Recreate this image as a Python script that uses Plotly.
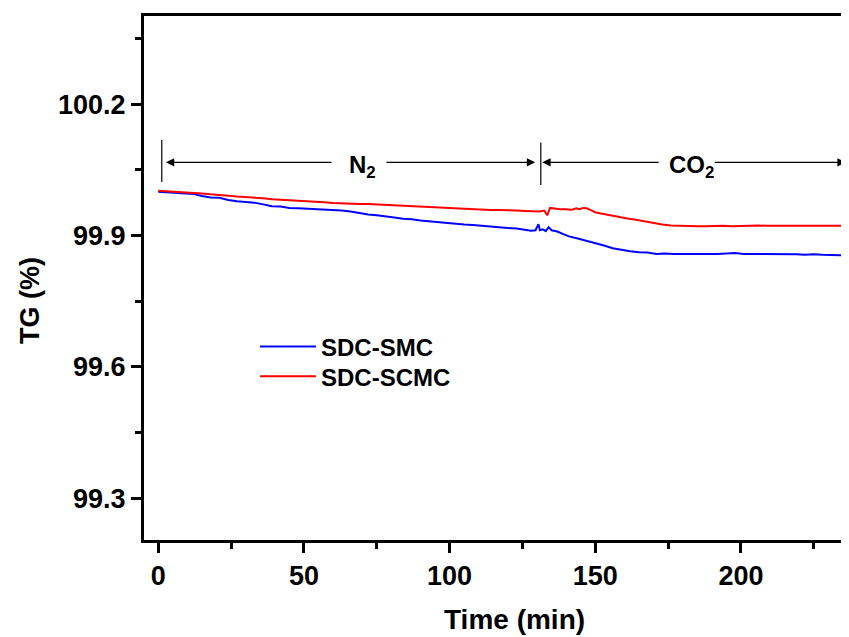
import plotly.graph_objects as go

# ---------------- data ----------------
series_names = ["SDC-SMC", "SDC-SCMC"]

time_smc = [0, 3, 6, 9, 12, 15, 18, 21, 24, 27, 30, 33, 36, 39, 42, 45, 48, 51, 54, 57,
            60, 63, 66, 69, 72, 75, 78, 81, 84, 87, 90, 93, 96, 99, 102, 105, 108, 111,
            114, 117, 120, 123, 126, 128, 129.5, 130.5, 131, 132, 133, 134, 135, 137, 139,
            141, 144, 147, 150, 153, 156, 159, 162, 165, 168, 171, 174, 177, 180, 183,
            186, 189, 192, 195, 198, 201, 204, 207, 210, 213, 216, 219, 222, 225, 228,
            231, 234, 237]
tg_smc = [100.000, 99.999, 99.998, 99.996, 99.995, 99.990, 99.987, 99.986, 99.981, 99.978,
          99.977, 99.975, 99.971, 99.967, 99.966, 99.963, 99.962, 99.961, 99.961, 99.959,
          99.958, 99.957, 99.955, 99.951, 99.948, 99.946, 99.944, 99.941, 99.938, 99.937,
          99.934, 99.932, 99.930, 99.929, 99.926, 99.925, 99.924, 99.922, 99.920, 99.919,
          99.917, 99.916, 99.913, 99.911, 99.912, 99.926, 99.912, 99.914, 99.910, 99.919,
          99.912, 99.909, 99.903, 99.898, 99.893, 99.888, 99.883, 99.877, 99.871, 99.867,
          99.864, 99.862, 99.861, 99.858, 99.859, 99.858, 99.858, 99.858, 99.857, 99.858,
          99.858, 99.859, 99.860, 99.858, 99.858, 99.857, 99.858, 99.857, 99.857, 99.857,
          99.856, 99.857, 99.856, 99.856, 99.855, 99.854]

time_scmc = [0, 3, 6, 9, 12, 15, 18, 21, 24, 27, 30, 33, 36, 39, 42, 45, 48, 51, 54, 57,
             60, 63, 66, 69, 72, 75, 78, 81, 84, 87, 90, 93, 96, 99, 102, 105, 108, 111,
             114, 117, 120, 123, 126, 129, 131, 132.5, 133.5, 134.5, 136, 138, 140, 142,
             143.5, 144.5, 146, 147, 148.5, 150, 152, 155, 158, 161, 164, 167, 170, 173,
             176, 179, 182, 185, 188, 191, 194, 197, 200, 203, 206, 209, 212, 215, 218,
             221, 224, 227, 230, 233, 237]
tg_scmc = [100.002, 100.001, 99.999, 99.998, 99.997, 99.996, 99.994, 99.993, 99.991, 99.989,
           99.988, 99.987, 99.985, 99.983, 99.982, 99.981, 99.980, 99.979, 99.977, 99.976,
           99.974, 99.973, 99.973, 99.972, 99.972, 99.971, 99.969, 99.968, 99.967, 99.966,
           99.966, 99.965, 99.964, 99.962, 99.961, 99.960, 99.959, 99.959, 99.958, 99.958,
           99.958, 99.957, 99.956, 99.956, 99.955, 99.957, 99.946, 99.963, 99.961, 99.960,
           99.960, 99.959, 99.962, 99.960, 99.963, 99.962, 99.958, 99.953, 99.950, 99.946,
           99.942, 99.939, 99.936, 99.932, 99.928, 99.925, 99.923, 99.922, 99.921, 99.921,
           99.921, 99.922, 99.922, 99.921, 99.922, 99.922, 99.923, 99.922, 99.922, 99.923,
           99.923, 99.922, 99.923, 99.923, 99.923, 99.922, 99.922]

x_tick_vals = [0, 50, 100, 150, 200]
y_tick_vals = [99.3, 99.6, 99.9, 100.2]
y_tick_text = ["99.3", "99.6", "99.9", "100.2"]

# atmosphere segments: label, boundaries (min)
segment_labels = ["N<sub>2</sub>", "CO<sub>2</sub>"]
segment_bounds = [1.2, 131.3, 236.6]

FONT = "Liberation Sans, Arial, sans-serif"

fig = go.Figure()
fig.add_trace(go.Scatter(x=time_smc, y=tg_smc, mode="lines", name=series_names[0],
                         line=dict(color="#0000ff", width=2), legend="legend"))
fig.add_trace(go.Scatter(x=time_scmc, y=tg_scmc, mode="lines", name=series_names[1],
                         line=dict(color="#ff0000", width=2), legend="legend2"))

shapes = []
bar_y = [(100.022, 100.118), (100.015, 100.112), (100.020, 100.114)]
for xb, (y0, y1) in zip(segment_bounds, bar_y):
    shapes.append(dict(type="line", xref="x", yref="y", x0=xb, x1=xb, y0=y0, y1=y1,
                       line=dict(color="black", width=1.2)))

annotations = []
arrow_y = 100.067
label_x = [70, 183]
arrows = [(60, 2.6), (77.8, 129.4), (172.3, 131.8), (190.5, 236.0)]
for tail, tip in arrows:
    annotations.append(dict(x=tip, y=arrow_y, ax=tail, ay=arrow_y, xref="x", yref="y",
                            axref="x", ayref="y", text="", showarrow=True,
                            arrowhead=2, arrowsize=1.4, arrowwidth=1.2, arrowcolor="black"))
for lbl, lx in zip(segment_labels, label_x):
    annotations.append(dict(x=lx, y=arrow_y, xref="x", yref="y", text="<b>" + lbl + "</b>",
                            showarrow=False, yanchor="middle", yshift=-4,
                            font=dict(family=FONT, size=24, color="black")))

annotations.append(dict(x=-0.1617, y=0.456, xref="paper", yref="paper", text="<b>TG (%)</b>",
                        textangle=-90, showarrow=False, xanchor="center", yanchor="middle",
                        font=dict(family=FONT, size=27, color="black")))
annotations.append(dict(x=0.526, y=-0.152, xref="paper", yref="paper", text="<b>Time (min)</b>",
                        showarrow=False, xanchor="center", yanchor="middle",
                        font=dict(family=FONT, size=28, color="black")))

legend_common = dict(xanchor="left", yanchor="middle", bgcolor="rgba(0,0,0,0)",
                     borderwidth=0, itemwidth=56,
                     font=dict(family=FONT, size=24, color="black", weight="bold"))

# the page body has an 8px margin, so the figure is drawn 8px smaller than the window
fig.update_layout(
    width=841, height=629,
    margin=dict(l=136, r=0, t=8, b=97),
    paper_bgcolor="white", plot_bgcolor="white",
    font=dict(family=FONT, size=24, color="black"),
    showlegend=True,
    legend=dict(x=0.1574, y=0.3687, **legend_common),
    legend2=dict(x=0.1574, y=0.3115, **legend_common),
    shapes=shapes,
    annotations=annotations,
)

fig.update_xaxes(
    range=[-4.9, 237.1], tickvals=x_tick_vals, ticktext=[f"<b>{v}</b>" for v in x_tick_vals],
    showline=True, linecolor="black", linewidth=3, mirror=True,
    ticks="outside", ticklen=10, tickwidth=2.5, tickcolor="black",
    minor=dict(tickvals=[25, 75, 125, 175, 225], ticks="outside", ticklen=6,
               tickwidth=2.5, tickcolor="black"),
    showgrid=False, zeroline=False,
    tickfont=dict(family=FONT, size=27, color="black"),
)
fig.update_yaxes(
    range=[99.205, 100.401], tickvals=y_tick_vals, ticktext=[f"<b>{t}</b>" for t in y_tick_text],
    showline=True, linecolor="black", linewidth=3, mirror=False,
    ticks="outside", ticklen=10, tickwidth=2.5, tickcolor="black",
    minor=dict(tickvals=[99.45, 99.75, 100.05, 100.35], ticks="outside", ticklen=6,
               tickwidth=2.5, tickcolor="black"),
    showgrid=False, zeroline=False,
    tickfont=dict(family=FONT, size=27, color="black"),
)

fig.write_html("out.html")
